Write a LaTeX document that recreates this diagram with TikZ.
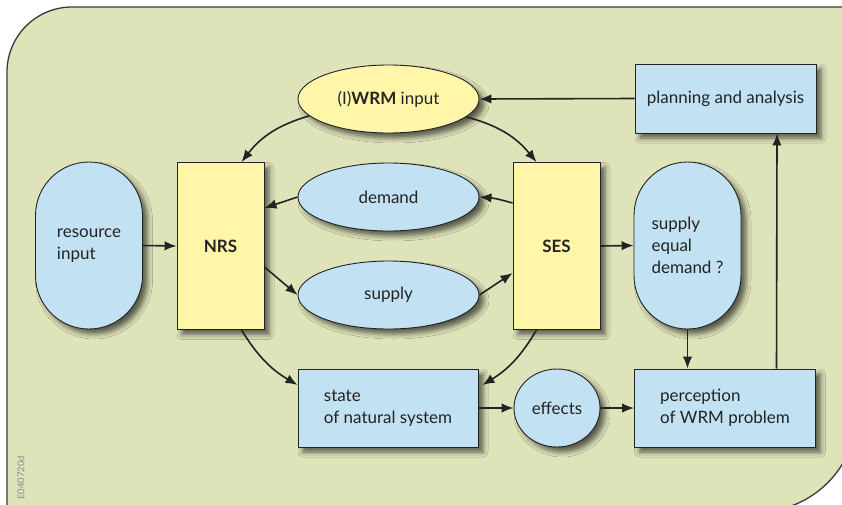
\documentclass[tikz,border=0pt]{standalone}
\usepackage{fontspec}
\setmainfont{Lato}
\usetikzlibrary{shapes.geometric,arrows.meta,shadows.blur,calc}
\definecolor{bgcol}{HTML}{DEE3BA}
\definecolor{bluefill}{HTML}{C2E1F2}
\definecolor{yellowfill}{HTML}{FFF6AA}
\definecolor{inkcol}{HTML}{232323}
\definecolor{framecol}{HTML}{3A3A3A}
\definecolor{markcol}{HTML}{8C8C8C}

\begin{document}
\begin{tikzpicture}[x=1pt,y=-1pt,
  font=\fontsize{17}{22}\selectfont,
  base/.style={draw=inkcol, line width=0.9pt, inner sep=0pt, align=left, text=inkcol,
    blur shadow={shadow xshift=5pt, shadow yshift=-5pt, shadow blur radius=5pt, shadow opacity=60}},
  bluebox/.style={base, rectangle, fill=bluefill},
  yellowbox/.style={base, rectangle, fill=yellowfill, minimum width=87pt, minimum height=167pt},
  blueoval/.style={base, ellipse, fill=bluefill},
  yellowoval/.style={base, ellipse, fill=yellowfill},
  capsule/.style={base, rectangle, rounded corners=53.5pt, fill=bluefill,
    minimum width=107pt, minimum height=167pt},
  link/.style={draw=inkcol, line width=1.6pt, -{Latex[length=12pt,width=9.5pt]}},
]
\useasboundingbox (0,0) rectangle (842,504);
\clip (0,0) rectangle (842,504);

% panel behind the diagram
\filldraw[fill=bgcol, draw=framecol, line width=1.3pt]
  (7,520) -- (7,72) arc[start angle=180, end angle=270, radius=65]
  -- (857,7) -- (857,412) arc[start angle=0, end angle=90, radius=100]
  -- (7,512) -- cycle;

% nodes
\node[capsule] (res) at (89,245.5) {resource\\input};
\node[yellowbox] (nrs) at (220.5,246) {\textbf{NRS}};
\node[yellowbox] (ses) at (556.5,246) {\textbf{SES}};
\node[yellowoval, minimum width=181pt, minimum height=68pt] (wrm) at (388.5,99) {(I)\textbf{WRM} input};
\node[blueoval, minimum width=181pt, minimum height=68pt] (demand) at (388.5,197) {demand};
\node[blueoval, minimum width=181pt, minimum height=68pt] (supply) at (388.5,295) {supply};
\node[bluebox, minimum width=181pt, minimum height=69pt] (plan) at (725.5,98.5) {planning and analysis};
\node[capsule] (sed) at (687.5,245.5) {supply\\equal\\demand ?};
\node[bluebox, minimum width=180pt, minimum height=78pt] (state) at (388,408) {state\\of natural system};
\node[blueoval, minimum width=86pt, minimum height=78pt] (effects) at (557,408) {effects};
\node[bluebox, minimum width=181pt, minimum height=78pt] (perc) at (725,408) {perception\\of WRM problem};

\node[rotate=90, font=\fontsize{9.5}{9.5}\selectfont, text=markcol] (code) at (21,478) {E040720d};

% connectors
\draw[link] (res.east) -- (nrs.west);
\draw[link] (wrm.192) to[bend right=18] ([xshift=21pt]nrs.north);
\draw[link] (wrm.-13) to[bend left=18] ([xshift=-20pt]ses.north);
\draw[link] (plan.west) -- (wrm.east);
\draw[link] ([yshift=43pt]ses.west) to[bend right=6] (demand.east);
\draw[link] (demand.west) -- ([yshift=38pt]nrs.east);
\draw[link] ([yshift=-21pt]nrs.east) -- (supply.west);
\draw[link] (supply.east) -- ([yshift=-27pt]ses.west);
\draw[link] (ses.east) -- (sed.west);
\draw[link] ([xshift=21pt]nrs.south) to[bend right=14] ([yshift=23pt]state.west);
\draw[link] ([xshift=-20pt]ses.south) to[bend left=14] ([xshift=4pt,yshift=23pt]state.east);
\draw[link] (state.east) -- (effects.west);
\draw[link] (effects.east) -- (perc.west);
\draw[link] (sed.south) -- (sed.south |- perc.north);
\draw[link] ([xshift=51.5pt]perc.north) -- ([xshift=51.5pt]plan.south);
\end{tikzpicture}
\end{document}
